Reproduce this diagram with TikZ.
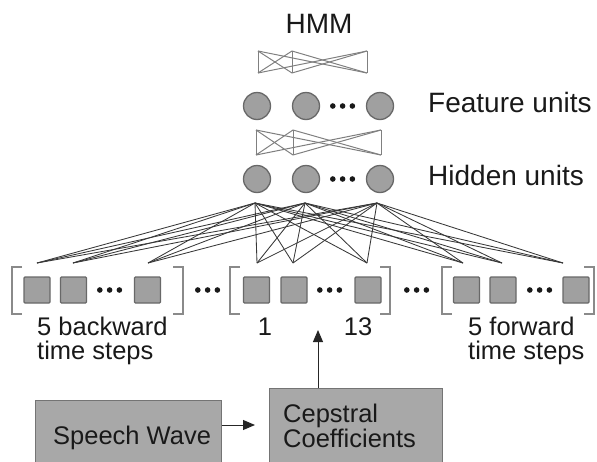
\documentclass[tikz,border=0pt]{standalone}
\usepackage{fontspec}
\setmainfont{Liberation Sans}
\usetikzlibrary{arrows.meta}
\definecolor{unitfill}{HTML}{A0A0A0}
\definecolor{unitborder}{HTML}{686868}
\definecolor{boxfill}{HTML}{A8A8A8}
\definecolor{boxborder}{HTML}{747474}
\definecolor{brkgray}{HTML}{8A8A8A}
\definecolor{bowgray}{HTML}{808080}
\begin{document}
\begin{tikzpicture}[x=1pt,y=-1pt,
  unit/.style={circle,draw=unitborder,fill=unitfill,line width=1.3pt,minimum size=27pt,inner sep=0pt},
  sq/.style={rectangle,draw=unitborder,fill=unitfill,line width=1.2pt,minimum size=26pt,inner sep=0pt,rounded corners=1pt},
  brk/.style={draw=brkgray,line width=1.5pt},
  conn/.style={draw=black!78,line width=0.85pt},
  bow/.style={draw=bowgray,line width=1pt},
  gbox/.style={rectangle,draw=boxborder,fill=boxfill,line width=1.2pt,anchor=north west,inner sep=0pt},
  big/.style={font=\fontsize{28}{32}\selectfont,inner sep=0pt,text=black!90},
  small/.style={font=\fontsize{25.5}{27}\selectfont,inner sep=0pt,text=black!90},
  arr/.style={-{Triangle[length=12pt,width=10pt]},line width=1pt,draw=black!85}
]
\useasboundingbox (0,0) rectangle (597,461);

% labels
\node[big,anchor=base] (hmm) at (319,33) {HMM};
\node[big,anchor=base west] (flab) at (428,112) {Feature units};
\node[big,anchor=base west] (hlab) at (428,185) {Hidden units};

% dot rows
\newcommand{\dotrow}[2]{\foreach \k in {0,1,2} {\fill[black!90] (#1+2.8+\k*9.8,#2) circle (2.8);}}

% bowtie connections
\foreach \a in {258,292,367} {\foreach \b in {258,292,367} {\draw[bow] (\a,51) -- (\b,73);}}
\foreach \a in {256,293,381} {\foreach \b in {256,293,381} {\draw[bow] (\a,130) -- (\b,155);}}

% feature units
\node[unit] (f1) at (257,106) {};
\node[unit] (f2) at (306,106) {};
\node[unit] (f3) at (380,106) {};
\dotrow{330}{106}
% hidden units
\node[unit] (u1) at (257,179) {};
\node[unit] (u2) at (306,179) {};
\node[unit] (u3) at (380,179) {};
\dotrow{330}{179}

% hubs and ends
\coordinate (h1) at (255,203);
\coordinate (h2) at (305,203);
\coordinate (h3) at (377,203);
\coordinate (e1) at (37,263);
\coordinate (e2) at (73,263);
\coordinate (e3) at (148,263);
\coordinate (e4) at (257,263);
\coordinate (e5) at (293,263);
\coordinate (e6) at (367,263);
\coordinate (e7) at (463,263);
\coordinate (e8) at (502,263);
\coordinate (e9) at (563,263);
\foreach \h in {h1,h2,h3} {\foreach \e in {e1,e2,e3,e4,e5,e6,e7,e8,e9} {\draw[conn] (\h) -- (\e);}}

% input squares
\node[sq] (s1) at (37,290) {};
\node[sq] (s2) at (73.5,290) {};
\node[sq] (s3) at (147.5,290) {};
\dotrow{97}{290}
\node[sq] (s4) at (256.5,290) {};
\node[sq] (s5) at (294,290) {};
\node[sq] (s6) at (368,290) {};
\dotrow{317}{290}
\node[sq] (s7) at (466.5,290) {};
\node[sq] (s8) at (503,290) {};
\node[sq] (s9) at (576,290) {};
\dotrow{527}{290}
\dotrow{195}{290}
\dotrow{404}{290}

% brackets
\draw[brk] (22,267) -- (12,267) -- (12,314) -- (22,314);
\draw[brk] (173,267) -- (183,267) -- (183,314) -- (173,314);
\draw[brk] (240,267) -- (230,267) -- (230,314) -- (240,314);
\draw[brk] (380,267) -- (390,267) -- (390,314) -- (380,314);
\draw[brk] (452,267) -- (442,267) -- (442,314) -- (452,314);
\draw[brk] (584,267) -- (594,267) -- (594,314) -- (584,314);

% group labels
\node[small,anchor=base west] (bk1) at (37,335) {5 backward};
\node[small,anchor=base west] (bk2) at (37,359) {time steps};
\node[small,anchor=base] (n1) at (265,335) {1};
\node[small,anchor=base] (n13) at (358,335) {13};
\node[small,anchor=base west] (fw1) at (468,335) {5 forward};
\node[small,anchor=base west] (fw2) at (468,359) {time steps};

% bottom boxes
\node[gbox,minimum width=186pt,minimum height=70pt] (sw) at (35,400) {};
\node[gbox,minimum width=173pt,minimum height=82pt] (cc) at (269,388) {};
\node[small,anchor=base west] (swt) at (53,444) {Speech Wave};
\node[small,anchor=base west] (cct1) at (283,422) {Cepstral};
\node[small,anchor=base west] (cct2) at (283,447) {Coefficients};

% arrows
\coordinate (tipA) at (255,425);
\coordinate (tipB) at (318,330);
\draw[arr] (sw.east |- tipA) -- (tipA);
\draw[arr] (cc.north -| tipB) -- (tipB);
\end{tikzpicture}
\end{document}
